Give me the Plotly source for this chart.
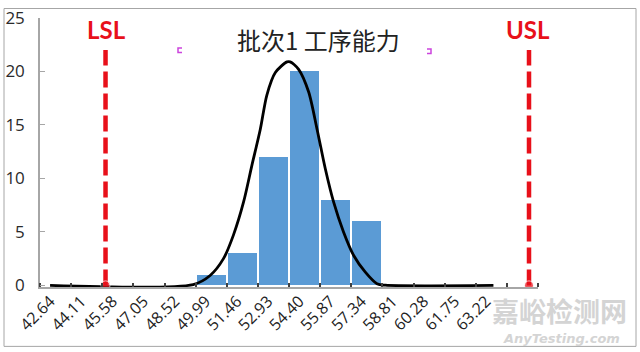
import plotly.graph_objects as go

# ---- data ----
bin_labels = ["42.64", "44.11", "45.58", "47.05", "48.52", "49.99", "51.46", "52.93",
              "54.40", "55.87", "57.34", "58.81", "60.28", "61.75", "63.22"]
bin_centers = [float(s) for s in bin_labels]
bin_width = 1.47

bar_x = [49.99, 51.46, 52.93, 54.40, 55.87, 57.34]
bar_counts = [1, 3, 12, 20, 8, 6]

curve_x = [42.38, 49.14, 49.94, 50.57, 51.04, 51.52, 51.91, 52.31, 52.62, 53.02,
           53.57, 53.72, 54.12, 54.59, 54.99, 55.38, 55.77, 56.24, 56.72, 57.27,
           57.82, 58.22, 63.32]
curve_y = [0.0, 0.08, 0.93, 2.5, 4.7, 7.8, 11.2, 14.6, 17.8, 19.9,
           20.9, 20.9, 20.2, 18.1, 14.6, 10.9, 7.8, 5.0, 2.8, 1.24,
           0.16, 0.02, 0.0]

LSL = 45.0
USL = 65.0
spec_top = 22

title_text = "批次1 工序能力"

# ---- layout geometry (pixels) ----
W, H = 640, 352
X0, X1 = 40, 538
Y0, Y1 = 17.5, 286.6
x_range = [41.905, 65.425]
y_range = [-0.15, 25]
label_shift = 0.25  # rotated labels sit a little left of the bin centre


def px(x):
    return (x - X0) / (X1 - X0)


def py(y):
    return (Y1 - y) / (Y1 - Y0)


fig = go.Figure()

fig.add_trace(go.Bar(
    x=bar_x, y=bar_counts, width=bin_width * 0.94,
    marker=dict(color="#5B9BD5", line=dict(width=0)),
    hoverinfo="skip", showlegend=False))

fig.add_trace(go.Scatter(
    x=curve_x, y=curve_y, mode="lines",
    line=dict(color="#000000", width=2.8, shape="spline", smoothing=0.8),
    hoverinfo="skip", showlegend=False))

for v in (LSL, USL):
    fig.add_trace(go.Scatter(
        x=[v, v], y=[0, spec_top], mode="lines+markers",
        line=dict(color="#E8101A", width=4.5, dash="16px,6px"),
        marker=dict(color="#E8101A", size=[9, 0], symbol="circle"),
        cliponaxis=True, hoverinfo="skip", showlegend=False))

tick_font = dict(family="Open Sans", size=16, color="#222222")

fig.update_layout(
    width=W, height=H,
    margin=dict(l=X0, r=W - X1, t=Y0, b=H - Y1, pad=0, autoexpand=False),
    paper_bgcolor="white", plot_bgcolor="white",
    bargap=0,
    xaxis=dict(
        range=x_range, tickmode="array", tickvals=[c - label_shift for c in bin_centers],
        ticktext=bin_labels,
        tickangle=-45, ticks="", showgrid=False, zeroline=False, automargin=False,
        showline=True, linecolor="#A6A6A6", linewidth=1.5,
        tickfont=tick_font, ticklabelstandoff=-3,
        minor=dict(tickmode="array",
                   tickvals=[c - bin_width / 2 for c in bin_centers] + [bin_centers[-1] + bin_width / 2,
                                                                         bin_centers[-1] + 1.5 * bin_width],
                   ticks="inside", ticklen=4, tickwidth=2, tickcolor="#404040", showgrid=False),
    ),
    yaxis=dict(
        range=y_range, tickmode="array", tickvals=[0, 5, 10, 15, 20, 25],
        ticks="inside", ticklen=5, tickcolor="#A6A6A6", tickwidth=1, automargin=False,
        showgrid=False, zeroline=False, showline=True, linecolor="#A6A6A6", linewidth=1.5,
        tickfont=dict(family="Open Sans", size=17, color="#2A2A2A"),
        ticklabelstandoff=10,
    ),
)

annotations = [
    dict(text=title_text, x=px(318), y=py(39), font=dict(family="Noto Sans CJK SC", size=24, color="#222222")),
    dict(text="LSL", x=px(106), y=py(29), font=dict(family="Lato", size=24, color="#E8101A", weight="bold")),
    dict(text="USL", x=px(528), y=py(29), font=dict(family="Lato", size=24, color="#E8101A", weight="bold")),
    dict(text="嘉峪检测网", x=px(559), y=py(310),
         font=dict(family="Noto Sans CJK SC", size=27, color="#D4D4D4", weight="bold")),
    dict(text="AnyTesting.com", x=px(561), y=py(338),
         font=dict(family="DejaVu Sans", size=13, color="#D4D4D4", weight="bold", style="italic")),
]
for a in annotations:
    a.update(xref="paper", yref="paper", xanchor="center", yanchor="middle", showarrow=False,
             borderpad=0)
fig.update_layout(annotations=annotations)

shapes = [
    dict(type="rect", xref="paper", yref="paper", x0=px(4), x1=px(636), y0=py(346), y1=py(8),
         line=dict(color="#A6A6A6", width=1), fillcolor="rgba(0,0,0,0)", layer="below"),
    dict(type="path", xref="paper", yref="paper",
         path=f"M {px(182)},{py(47.5)} L {px(178)},{py(47.5)} L {px(178)},{py(52)} L {px(182)},{py(52)}",
         line=dict(color="#CC44DD", width=1.5)),
    dict(type="path", xref="paper", yref="paper",
         path=f"M {px(427)},{py(48.5)} L {px(431)},{py(48.5)} L {px(431)},{py(53)} L {px(427)},{py(53)}",
         line=dict(color="#CC44DD", width=1.5)),
]
fig.update_layout(shapes=shapes)

fig.write_html("out.html")
